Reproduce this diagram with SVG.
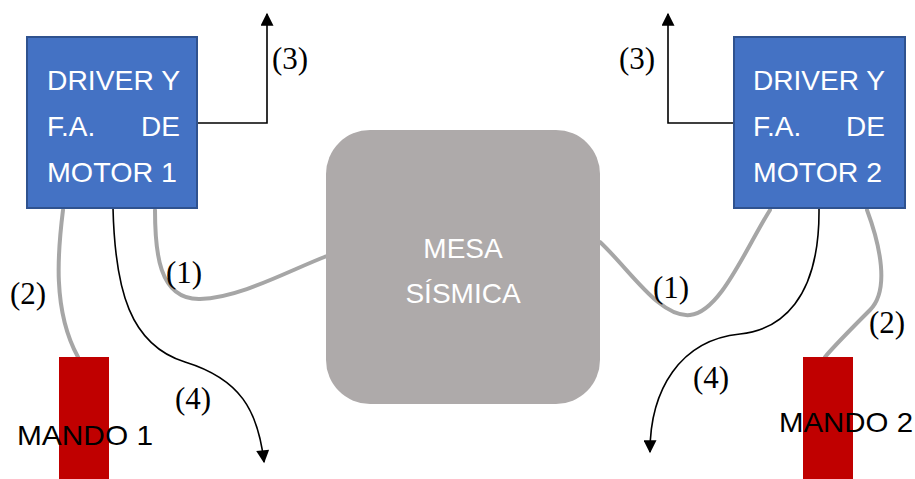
<svg xmlns="http://www.w3.org/2000/svg" width="915" height="479" viewBox="0 0 915 479">
<style>
.drv{fill:#4472C4;stroke:#2F528F;stroke-width:2}
.wt{fill:#FFFFFF;font-family:"Liberation Sans",Arial,sans-serif;font-size:28px}
.bt{fill:#000000;font-family:"Liberation Sans",Arial,sans-serif;font-size:28px}
.lbl{fill:#000000;font-family:"Liberation Serif","Times New Roman",serif;font-size:31px}
.gray{fill:none;stroke:#A6A6A6;stroke-width:4;stroke-linecap:round}
.blk{fill:none;stroke:#000000;stroke-width:1.6}
</style>
<defs>
<marker id="ah2" viewBox="0 0 10 10" refX="9" refY="5" markerWidth="15" markerHeight="13" markerUnits="userSpaceOnUse" orient="auto">
<path d="M0,0 L10,5 L0,10 Z" fill="#000"/>
</marker>
</defs>
<rect width="915" height="479" fill="#FFFFFF"/>

<g id="connectors">
<!-- (3) outputs -->
<path class="blk" d="M197,123 H267 V14" marker-end="url(#ah2)"/>
<path class="blk" d="M734,123 H668 V14" marker-end="url(#ah2)"/>
<!-- (1) to mesa -->
<path class="gray" d="M155,210 C155,250 158,300 200,299 C240,298 290,270 327,256"/>
<path class="gray" d="M600,242 C630,270 660,318 690,315 C720,312 745,250 770,210"/>
<!-- (2) to mandos -->
<path class="gray" d="M63,210 C58,250 52,310 78,357"/>
<path class="gray" d="M867,210 C880,245 890,290 870,310 C850,330 835,345 825,357"/>
<!-- (4) outputs -->
<path class="blk" d="M113,208 C115,290 130,345 185,362 S258,410 264,462" marker-end="url(#ah2)"/>
<path class="blk" d="M819,208 C820,300 780,330 740,334 C680,340 650,390 650,452" marker-end="url(#ah2)"/>
</g>

<g id="driver1">
<rect class="drv" x="27" y="37" width="170" height="171"/>
<text class="wt" x="47" y="90" textLength="133" lengthAdjust="spacingAndGlyphs">DRIVER Y</text>
<text class="wt" x="47" y="136">F.A.</text>
<text class="wt" x="180" y="136" text-anchor="end">DE</text>
<text class="wt" x="47" y="182" textLength="130" lengthAdjust="spacingAndGlyphs">MOTOR 1</text>
</g>

<g id="driver2">
<rect class="drv" x="734" y="37" width="171" height="171"/>
<text class="wt" x="753" y="90" textLength="132" lengthAdjust="spacingAndGlyphs">DRIVER Y</text>
<text class="wt" x="753" y="136">F.A.</text>
<text class="wt" x="885" y="136" text-anchor="end">DE</text>
<text class="wt" x="753" y="182" textLength="129" lengthAdjust="spacingAndGlyphs">MOTOR 2</text>
</g>

<g id="mesa">
<rect x="326" y="130" width="274" height="274" rx="44" ry="44" fill="#AEAAAA"/>
<text class="wt" x="463" y="258" text-anchor="middle" fill="#F2F2F2">MESA</text>
<text class="wt" x="463" y="303" text-anchor="middle" fill="#F2F2F2">SÍSMICA</text>
</g>

<g id="mando1">
<rect x="59" y="357" width="50" height="122" fill="#C00000"/>
<text class="bt" x="17" y="445" textLength="136" lengthAdjust="spacingAndGlyphs">MANDO 1</text>
</g>

<g id="mando2">
<rect x="803" y="357" width="50" height="122" fill="#C00000"/>
<text class="bt" x="779" y="432" textLength="134" lengthAdjust="spacingAndGlyphs">MANDO 2</text>
</g>

<g id="labels">
<text class="lbl" x="272" y="69">(3)</text>
<text class="lbl" x="619" y="69">(3)</text>
<text class="lbl" x="166" y="283">(1)</text>
<text class="lbl" x="653" y="298">(1)</text>
<text class="lbl" x="10" y="304">(2)</text>
<text class="lbl" x="869" y="333">(2)</text>
<text class="lbl" x="175" y="409">(4)</text>
<text class="lbl" x="693" y="388">(4)</text>
</g>
</svg>
